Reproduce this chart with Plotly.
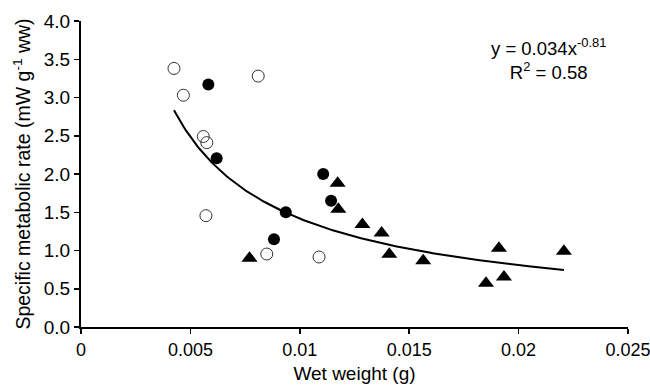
import numpy as np
import plotly.graph_objects as go

# Data
open_x = [0.00425, 0.00468, 0.0081, 0.00559, 0.00575, 0.00571, 0.00849, 0.01088]
open_y = [3.38, 3.03, 3.28, 2.49, 2.41, 1.455, 0.954, 0.915]

filled_x = [0.00582, 0.0062, 0.00936, 0.00882, 0.01107, 0.01143]
filled_y = [3.17, 2.205, 1.50, 1.146, 2.0, 1.65]

tri_x = [0.0077, 0.01173, 0.01176, 0.01286, 0.01374, 0.01409, 0.01564, 0.01851, 0.0191, 0.01933, 0.02207]
tri_y = [0.90, 1.88, 1.54, 1.34, 1.23, 0.95, 0.867, 0.571, 1.03, 0.654, 0.99]

# Power-law trendline shown on the chart: y = 0.034 x^-0.81
fit_a = 0.034
fit_b = -0.81

x_ticks = [0, 0.005, 0.01, 0.015, 0.02, 0.025]
x_tick_labels = ["0", "0.005", "0.01", "0.015", "0.02", "0.025"]
y_ticks = [0, 0.5, 1.0, 1.5, 2.0, 2.5, 3.0, 3.5, 4.0]
y_tick_labels = ["0.0", "0.5", "1.0", "1.5", "2.0", "2.5", "3.0", "3.5", "4.0"]

all_x = open_x + filled_x + tri_x
fx = np.linspace(min(all_x), max(all_x), 200)
fy = fit_a * fx ** fit_b

FONT = "Arial, 'Liberation Sans', Helvetica, sans-serif"

fig = go.Figure()
fig.add_trace(go.Scatter(
    x=open_x, y=open_y, mode="markers",
    marker=dict(symbol="circle-open", size=12, color="#333333", line=dict(width=1)),
    showlegend=False))
fig.add_trace(go.Scatter(
    x=fx, y=fy, mode="lines", line=dict(color="black", width=2), showlegend=False))
fig.add_trace(go.Scatter(
    x=filled_x, y=filled_y, mode="markers",
    marker=dict(symbol="circle", size=12, color="black"), showlegend=False))
fig.add_trace(go.Scatter(
    x=tri_x, y=tri_y, mode="markers",
    marker=dict(symbol="triangle-up", size=14, color="black"), showlegend=False))

fig.add_annotation(
    x=0.02138, y=3.5, xref="x", yref="y",
    text="y = 0.034x<sup>-0.81</sup><br>R<sup>2</sup> = 0.58",
    showarrow=False, align="center",
    font=dict(family=FONT, size=18.5, color="black"))

fig.update_layout(
    width=650, height=389,
    margin=dict(l=81, r=22, t=21, b=62),
    paper_bgcolor="white", plot_bgcolor="white",
    font=dict(family=FONT, size=19, color="black"),
    xaxis=dict(
        range=[0, 0.025], tickvals=x_ticks, ticktext=x_tick_labels,
        tickfont=dict(size=18), ticklabeloverflow="allow",
        showgrid=False, zeroline=False, showline=True, linecolor="black", linewidth=2,
        ticks="outside", ticklen=5, tickwidth=1.5, tickcolor="black",
        title=dict(text="Wet weight (g)", standoff=8, font=dict(size=19)),
        automargin=False),
    yaxis=dict(
        range=[0, 4], tickvals=y_ticks, ticktext=y_tick_labels,
        tickfont=dict(size=19),
        showgrid=False, zeroline=False, showline=True, linecolor="black", linewidth=2,
        ticks="outside", ticklen=5, tickwidth=1.5, tickcolor="black",
        title=dict(text="Specific metabolic rate (mW g<sup>-1</sup> ww)", standoff=8,
                   font=dict(size=19.5)),
        automargin=False),
)

fig.write_html("out.html",
               config={"displayModeBar": False, "staticPlot": True},
               post_script="document.body.style.margin='0';document.body.style.overflow='hidden';")
